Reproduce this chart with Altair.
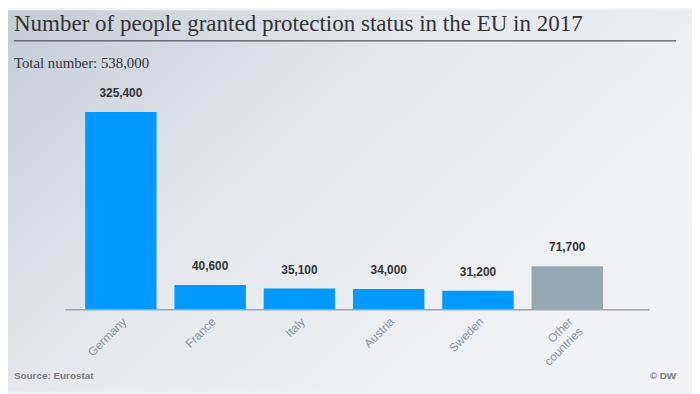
import altair as alt
import pandas as pd

countries = ["Germany", "France", "Italy", "Austria", "Sweden", "Other countries"]
values = [325400, 40600, 35100, 34000, 31200, 71700]
groups = ["eu", "eu", "eu", "eu", "eu", "other"]
labels = ["325,400", "40,600", "35,100", "34,000", "31,200", "71,700"]

title_text = "Number of people granted protection status in the EU in 2017"
subtitle_text = "Total number: 538,000"
source_text = "Source: Eurostat"
credit_text = "© DW"

df = pd.DataFrame({"country": countries, "value": values, "group": groups, "label": labels})
one = pd.DataFrame({"k": [0]})

W, H = 560, 220

bg = alt.Chart(one).mark_rect(
    color=alt.LinearGradient(
        gradient="linear",
        x1=0, y1=0, x2=1, y2=0.6,
        stops=[
            alt.GradientStop(color="#c3ccd6", offset=0),
            alt.GradientStop(color="#e4e8ec", offset=0.45),
            alt.GradientStop(color="#f2f3f5", offset=1),
        ],
    )
).encode(x=alt.value(-60), x2=alt.value(W + 72), y=alt.value(-83), y2=alt.value(H + 83))

x_enc = alt.X(
    "country:N",
    sort=countries,
    scale=alt.Scale(paddingInner=0.2, paddingOuter=0.2),
    axis=alt.Axis(
        title=None,
        labelAngle=-45,
        labelColor="#8596a6",
        labelFont="Liberation Sans",
        labelFontSize=12,
        labelPadding=6,
        ticks=False,
        domain=False,
        zindex=2,
        labelExpr="datum.label == 'Other countries' ? ['Other', 'countries'] : datum.label",
    ),
)
y_enc = alt.Y("value:Q", scale=alt.Scale(domain=[0, 358000], nice=False), axis=None)

bars = alt.Chart(df).mark_bar().encode(
    x=x_enc,
    y=y_enc,
    color=alt.Color("group:N", scale=alt.Scale(domain=["eu", "other"], range=["#0099ff", "#95a7b3"]), legend=None),
)

texts = alt.Chart(df).mark_text(
    dy=-12, font="Liberation Sans", fontWeight="bold", fontSize=12, color="#333333", baseline="bottom"
).encode(x=alt.X("country:N", sort=countries), y=y_enc, text="label:N")

baseline = alt.Chart(one).mark_rule(color="#9ba6af", strokeWidth=1.5).encode(
    x=alt.value(-2), x2=alt.value(589), y=alt.value(H)
)

title = alt.Chart(one).mark_text(
    text=title_text, font="Liberation Serif", fontSize=23.3, color="#333333", align="left", baseline="alphabetic"
).encode(x=alt.value(-54), y=alt.value(-62))

title_line = alt.Chart(one).mark_rule(color="#333333", strokeWidth=1).encode(
    x=alt.value(-54), x2=alt.value(616), y=alt.value(-52)
)

subtitle = alt.Chart(one).mark_text(
    text=subtitle_text, font="Liberation Serif", fontSize=15, color="#333333", align="left", baseline="alphabetic"
).encode(x=alt.value(-54), y=alt.value(-25))

source = alt.Chart(one).mark_text(
    text=source_text, font="Liberation Sans", fontWeight="bold", fontSize=10, color="#7a7a7a", align="left", baseline="alphabetic"
).encode(x=alt.value(-54), y=alt.value(290))

credit = alt.Chart(one).mark_text(
    text=credit_text, font="Liberation Sans", fontWeight="bold", fontSize=10, color="#7a7a7a", align="right", baseline="alphabetic"
).encode(x=alt.value(616), y=alt.value(290))

chart = alt.layer(bg, bars, texts, baseline, title, title_line, subtitle, source, credit).properties(
    width=W,
    height=H,
    autosize=alt.AutoSizeParams(type="none"),
    padding={"left": 60, "top": 83, "right": 72, "bottom": 83},
    background="#f2f3f5",
).configure_view(stroke=None)

chart.save("out.html", embed_options={"renderer": "svg", "actions": False})
